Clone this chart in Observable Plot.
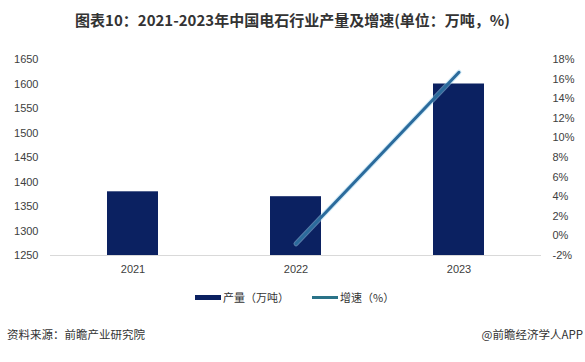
<!DOCTYPE html>
<html><head><meta charset="utf-8">
<script src="https://cdn.jsdelivr.net/npm/d3@7"></script>
<script src="https://cdn.jsdelivr.net/npm/@observablehq/plot@0.6"></script>
<style>
body{margin:0;background:#fff;font-family:"Noto Sans CJK SC","Noto Sans",sans-serif;}
#wrap{position:relative;width:585px;height:362px;overflow:hidden;background:#fff;}
#title{position:absolute;left:0;top:8px;width:585px;text-align:center;font-size:15px;font-weight:bold;color:#333;line-height:24px;}
#chart{position:absolute;left:0;top:40px;}
#legend{position:absolute;top:288px;left:0;width:585px;height:18px;font-size:11px;color:#333;}
.item{position:absolute;top:0;line-height:18px;}
.sw{position:absolute;}
#src{position:absolute;left:7px;top:325px;font-size:11.5px;color:#333;line-height:18px;}
#app{position:absolute;right:2px;top:325px;font-size:11.5px;color:#333;line-height:18px;}
</style></head>
<body><div id="wrap">
<div id="title">图表10：2021-2023年中国电石行业产量及增速(单位：万吨，%)</div>
<div id="chart"></div>
<div id="legend">
  <div class="sw" style="left:195px;top:7px;width:26px;height:5px;background:#0b2161"></div>
  <div class="item" style="left:223px">产量（万吨）</div>
  <div class="sw" style="left:312px;top:8px;width:26px;height:3px;background:#2a7388"></div>
  <div class="item" style="left:340px">增速（%）</div>
</div>
<div id="src">资料来源：前瞻产业研究院</div>
<div id="app">@前瞻经济学人APP</div>
</div>
<script>
const years = ["2021","2022","2023"];
const output = [1380, 1370, 1600];
const growthYears = ["2022","2023"];
const growth = [-0.8, 16.7];
const leftTicks = [1250,1300,1350,1400,1450,1500,1550,1600,1650];
const rightTicks = [-2,0,2,4,6,8,10,12,14,16,18];

const yMin = 1250, yMax = 1650, pMin = -2, pMax = 18;
const toY = p => yMin + (p - pMin) * (yMax - yMin) / (pMax - pMin);
const fromY = v => pMin + (v - yMin) * (pMax - pMin) / (yMax - yMin);

const bars = years.map((y,i)=>({year:y, value:output[i]}));
const line = growthYears.map((y,i)=>({year:y, value:toY(growth[i])}));

const fontFam = "'Liberation Sans', Arial, sans-serif";
const chart = Plot.plot({
  width: 585,
  height: 235,
  marginTop: 19,
  marginBottom: 20,
  marginLeft: 50,
  marginRight: 44,
  style: {fontFamily: fontFam, fontSize: "11px", color: "#404040", background: "transparent"},
  x: {domain: years, paddingInner: 0.69, paddingOuter: 0.345, label: null},
  y: {domain: [yMin, yMax], label: null},
  marks: [
    Plot.axisX({tickSize: 0, tickPadding: 10, fontSize: 11, label: null}),
    Plot.axisY(leftTicks, {anchor: "left", tickSize: 0, tickPadding: 12, fontSize: 11, label: null, tickFormat: d => String(d)}),
    Plot.axisY(rightTicks.map(toY), {anchor: "right", tickSize: 0, tickPadding: 11, fontSize: 11, label: null, textAnchor: "start", tickFormat: v => Math.round(fromY(v)) + "%"}),
    Plot.barY(bars, {x: "year", y1: yMin, y2: "value", fill: "#0b2161"}),
    Plot.ruleY([yMin], {stroke: "#d9d9d9", strokeWidth: 1}),
    Plot.line(line, {x: "year", y: "value", stroke: "#9fd3f0", strokeWidth: 5, strokeOpacity: 0.5}),
    Plot.line(line, {x: "year", y: "value", stroke: "#2b6b9c", strokeWidth: 3})
  ]
});
document.getElementById("chart").appendChild(chart);
</script>
</body></html>
